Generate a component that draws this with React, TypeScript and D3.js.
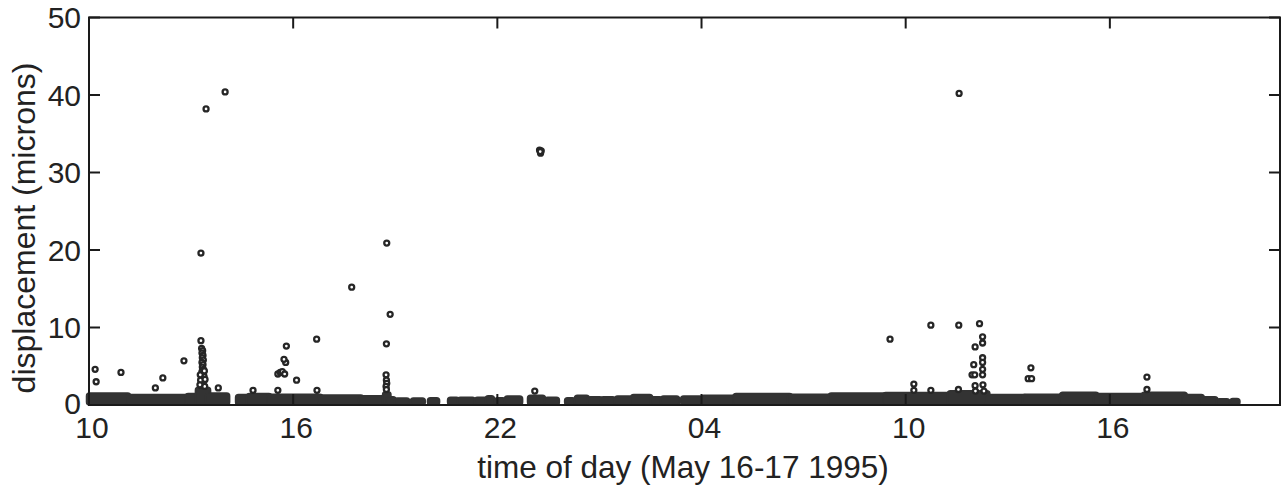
import React from "react";
import * as d3 from "d3";

// Hours since 00:00 on May 16 (values above 24 fall on May 17).
const xTickHours = [10, 16, 22, 28, 34, 40];
const xTickLabels = ["10", "16", "22", "04", "10", "16"];
const yTicks = [0, 10, 20, 30, 40, 50];

// Dense low-level record, summarised as runs: [start hour, end hour, peak microns].
const baseRuns: [number, number, number][] = [
  [10.0, 11.15, 1.55], [11.15, 12.9, 1.35], [12.9, 13.2, 1.5], [13.2, 13.5, 2.3],
  [13.5, 14.06, 1.55], [14.38, 14.7, 1.35], [14.7, 15.3, 1.5], [15.3, 16.8, 1.4],
  [16.8, 18.0, 1.3], [18.0, 18.7, 1.2], [18.7, 18.8, 1.7], [18.8, 18.95, 1.05],
  [19.05, 19.35, 0.9], [19.52, 19.81, 0.9], [20.02, 20.23, 0.95], [20.61, 20.81, 1.0],
  [20.9, 21.28, 1.0], [21.4, 21.64, 1.0], [21.72, 21.84, 1.2], [21.99, 22.17, 0.95],
  [22.28, 22.67, 1.15], [22.96, 23.34, 1.25], [23.46, 23.75, 1.0], [24.05, 24.22, 0.95],
  [24.34, 24.63, 1.25], [24.72, 25.02, 1.05], [25.1, 25.4, 1.05], [25.52, 25.9, 1.15],
  [25.99, 26.49, 1.35], [26.57, 26.78, 1.05], [26.87, 27.28, 1.15], [27.46, 27.96, 1.15],
  [28.05, 29.0, 1.25], [29.0, 30.6, 1.5], [30.6, 31.8, 1.4], [31.8, 33.4, 1.55],
  [33.4, 35.3, 1.6], [35.3, 36.4, 1.85], [36.4, 37.5, 1.35], [37.5, 38.6, 1.4],
  [38.6, 39.6, 1.65], [39.6, 41.0, 1.5], [41.0, 42.2, 1.65], [42.2, 42.7, 1.35],
  [42.7, 43.1, 1.05], [43.2, 43.45, 0.8], [43.6, 43.75, 0.85],
];

// Individual samples standing above the low-level record: [hour, microns].
const samples: [number, number][] = [
  [10.18, 4.6], [10.21, 3.0], [10.94, 4.2], [11.95, 2.2], [12.17, 3.5], [12.79, 5.7],
  [13.29, 8.3], [13.29, 19.6], [13.44, 38.2], [14.0, 40.4],
  [13.31, 7.3], [13.34, 7.0], [13.32, 6.7], [13.35, 6.4], [13.33, 6.1], [13.36, 5.8],
  [13.32, 5.5], [13.35, 5.2], [13.33, 4.9], [13.36, 4.6], [13.32, 4.3], [13.35, 4.0],
  [13.38, 3.7], [13.33, 3.4], [13.37, 3.1], [13.34, 2.8], [13.3, 2.5],
  [13.28, 3.2], [13.4, 2.4], [13.26, 2.6], [13.41, 3.3], [13.27, 3.9], [13.39, 4.4],
  [13.8, 2.2], [14.82, 1.9],
  [15.55, 1.9], [15.55, 4.0], [15.62, 4.2], [15.68, 4.3], [15.75, 4.0], [15.78, 5.5],
  [15.73, 5.9], [15.8, 7.6], [16.1, 3.2], [16.69, 8.5], [16.7, 1.9],
  [17.72, 15.2], [18.75, 20.9], [18.85, 11.7], [18.74, 7.9], [18.73, 3.9],
  [18.74, 3.2], [18.75, 2.8], [18.73, 2.4], [18.74, 2.0],
  [23.1, 1.8], [23.24, 32.9], [23.27, 32.5], [23.29, 32.8], [23.26, 32.7],
  [33.54, 8.5], [34.24, 2.7], [34.24, 1.9], [34.74, 10.3], [34.74, 1.9], [35.55, 2.0],
  [35.57, 40.2], [35.56, 10.3], [36.17, 10.5], [36.26, 8.8], [36.26, 8.0], [36.04, 7.5],
  [36.26, 6.1], [36.0, 5.2], [36.26, 5.5], [35.95, 3.9], [36.03, 3.9], [36.26, 3.9],
  [36.26, 4.6], [36.04, 2.5], [36.27, 2.6], [36.3, 1.8], [36.05, 1.8],
  [37.6, 3.4], [37.7, 3.4], [37.68, 4.8], [41.09, 3.6], [41.09, 2.0],
];

const W = 1282;
const H = 487;
const M = { left: 89, right: 1280, top: 17.5, bottom: 405 };
const FONT = "'Liberation Sans', Arial, Helvetica, sans-serif";

export default function App() {
  const x = d3.scaleLinear().domain([10, 45]).range([M.left, M.right]);
  const y = d3.scaleLinear().domain([0, 50]).range([M.bottom, M.top]);
  const tick = 11;

  return (
    <svg
      width={W}
      height={H}
      style={{ position: "absolute", left: 0, top: 0, background: "#fff" }}
      fontFamily={FONT}
    >
      {/* low-level record */}
      <g fill="#333" stroke="#333" strokeWidth={1.5} strokeLinejoin="round">
        {baseRuns.map(([a, b, v], i) => {
          const x0 = x(a) - 2.5;
          const x1 = x(b) + 2.5;
          const top = y(v);
          return (
            <rect
              key={i}
              x={x0}
              y={top}
              width={x1 - x0}
              height={M.bottom - top}
              rx={3}
              ry={3}
            />
          );
        })}
      </g>

      {/* individual samples */}
      <g fill="#fff" stroke="#262626" strokeWidth={2.3}>
        {samples.map(([h, v], i) => (
          <circle key={i} cx={x(h)} cy={y(v)} r={2.5} />
        ))}
      </g>

      {/* frame */}
      <rect
        x={M.left}
        y={M.top}
        width={M.right - M.left}
        height={M.bottom - M.top}
        fill="none"
        stroke="#1a1a1a"
        strokeWidth={2}
      />

      {/* ticks, drawn inward on all four sides */}
      <g stroke="#1a1a1a" strokeWidth={2}>
        {xTickHours.map((h) => (
          <g key={h}>
            <line x1={x(h)} x2={x(h)} y1={M.top} y2={M.top + tick} />
            <line x1={x(h)} x2={x(h)} y1={M.bottom} y2={M.bottom - tick} />
          </g>
        ))}
        {yTicks.map((v) => (
          <g key={v}>
            <line x1={M.left} x2={M.left + tick} y1={y(v)} y2={y(v)} />
            <line x1={M.right} x2={M.right - tick} y1={y(v)} y2={y(v)} />
          </g>
        ))}
      </g>

      {/* tick labels */}
      <g fill="#222" fontSize={30}>
        {xTickHours.map((h, i) => (
          <text key={h} x={x(h) + 3} y={438} textAnchor="middle">
            {xTickLabels[i]}
          </text>
        ))}
        {yTicks.map((v) => (
          <text key={v} x={81} y={y(v)} dy={v === 0 ? "0.3em" : "0.36em"} textAnchor="end">
            {v}
          </text>
        ))}
      </g>

      {/* axis titles */}
      <text x={683} y={478} textAnchor="middle" fontSize={31.5} fill="#222">
        time of day (May 16-17 1995)
      </text>
      <text
        transform="translate(35,228) rotate(-90)"
        textAnchor="middle"
        fontSize={32}
        fill="#222"
      >
        displacement (microns)
      </text>
    </svg>
  );
}
